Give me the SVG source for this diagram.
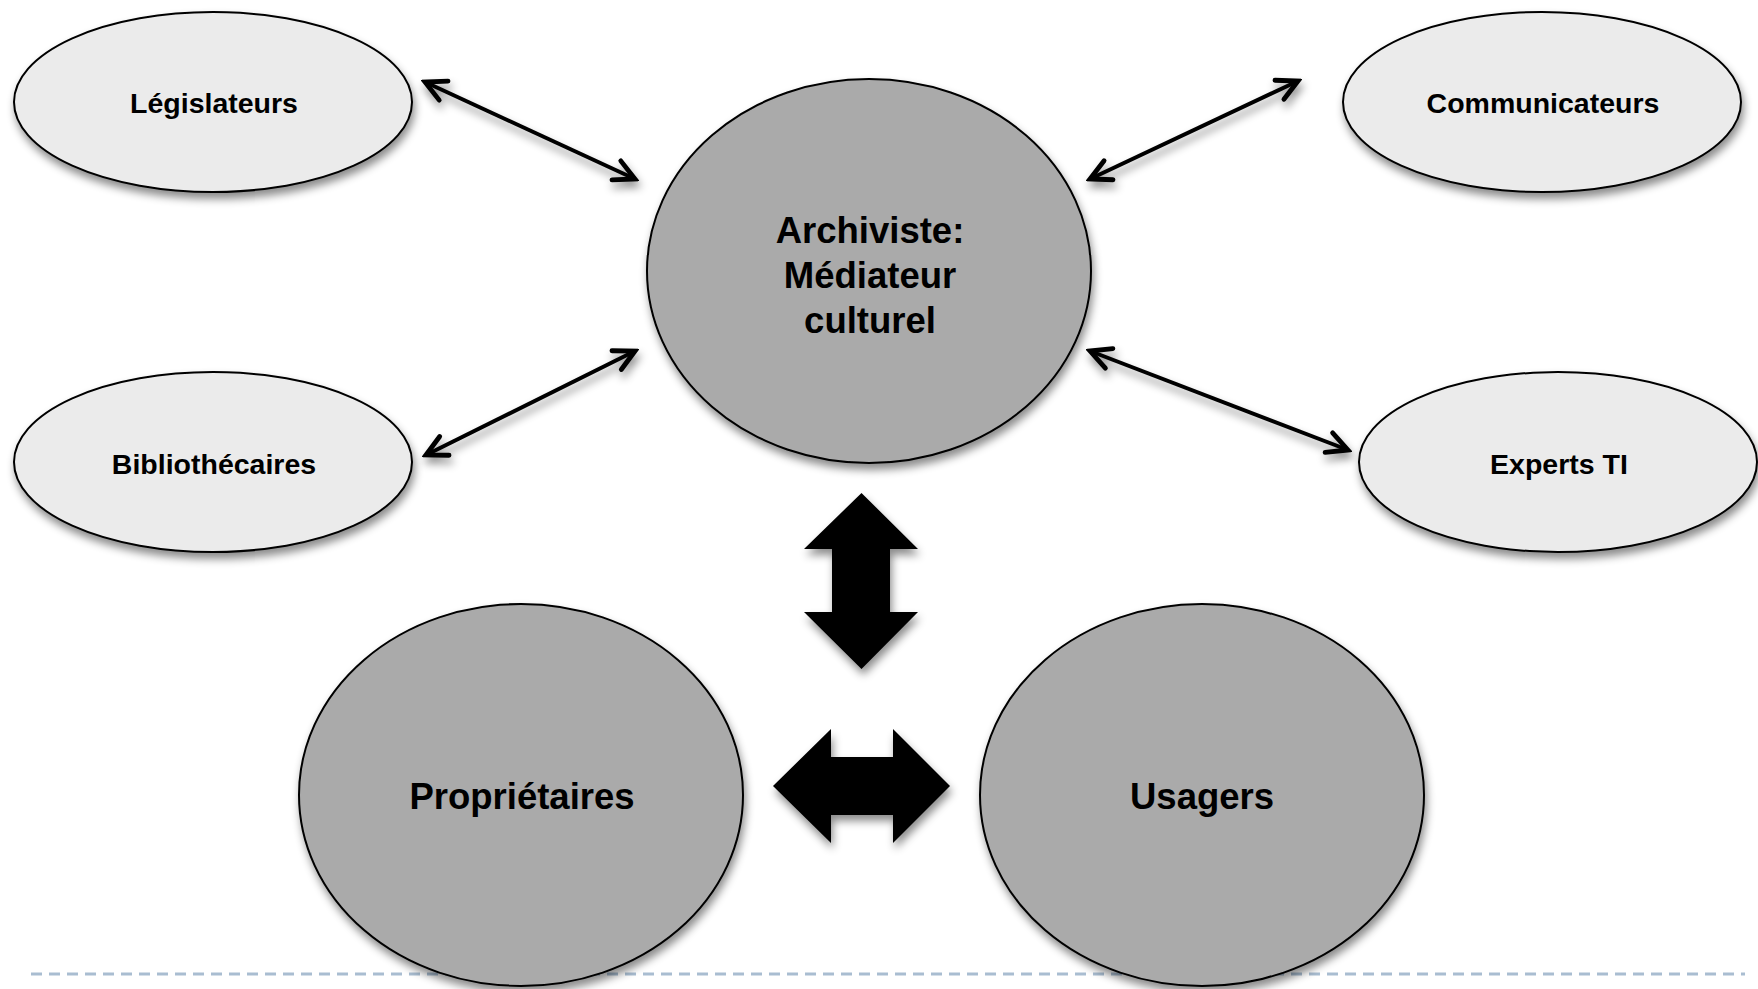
<svg xmlns="http://www.w3.org/2000/svg" width="1758" height="989" viewBox="0 0 1758 989">
  <style>
    .light { fill: #ebebeb; stroke: #000; stroke-width: 2; }
    .dark { fill: #aaaaaa; stroke: #000; stroke-width: 2; }
    .lbl { font-family: "Liberation Sans", Arial, sans-serif; font-weight: bold; fill: #000; text-anchor: middle; }
    .sm { font-size: 28.5px; }
    .lg { font-size: 36.5px; }
    .conn { stroke: #000; stroke-width: 4; fill: none; marker-start: url(#open); marker-end: url(#open); }
    .block { fill: #000; }
  </style>
  <defs>
    <filter id="sh" x="-20%" y="-20%" width="140%" height="150%">
      <feDropShadow dx="2" dy="6" stdDeviation="4" flood-color="#000" flood-opacity="0.45"/>
    </filter>
    <marker id="open" viewBox="-26 -14 30 28" refX="0" refY="0" markerWidth="30" markerHeight="28" markerUnits="userSpaceOnUse" orient="auto-start-reverse">
      <path d="M -20.5 -10.5 L 0 0 L -20.5 10.5" fill="none" stroke="#000" stroke-width="4.8" stroke-linecap="round" stroke-linejoin="miter"/>
    </marker>
  </defs>
  <rect width="1758" height="989" fill="#fff"/>

  <line x1="31" y1="974" x2="1745" y2="974" stroke="#a9bdd1" stroke-width="3" stroke-dasharray="11 7"/>

  <g id="connectors">
    <line class="conn" x1="425" y1="82" x2="635" y2="179" filter="url(#sh)"/>
    <line class="conn" x1="1090" y1="179" x2="1298" y2="81" filter="url(#sh)"/>
    <line class="conn" x1="426" y1="455" x2="635" y2="351" filter="url(#sh)"/>
    <line class="conn" x1="1090" y1="351" x2="1348" y2="450" filter="url(#sh)"/>
    <path id="vertical-arrow" class="block" filter="url(#sh)" d="M 861.5 493 L 918 549 L 890 549 L 890 612 L 918 612 L 861.5 669 L 804 612 L 832 612 L 832 549 L 804 549 Z"/>
    <path id="horizontal-arrow" class="block" filter="url(#sh)" d="M 773 786 L 831 729 L 831 757 L 893 757 L 893 729 L 950 786 L 893 843 L 893 815 L 831 815 L 831 843 Z"/>
  </g>

  <g id="legislateurs">
    <ellipse class="light" cx="213" cy="102" rx="199" ry="90" filter="url(#sh)"/>
    <text class="lbl sm" x="214" y="113">Législateurs</text>
  </g>
  <g id="communicateurs">
    <ellipse class="light" cx="1542" cy="102" rx="199" ry="90" filter="url(#sh)"/>
    <text class="lbl sm" x="1543" y="113">Communicateurs</text>
  </g>
  <g id="bibliothecaires">
    <ellipse class="light" cx="213" cy="462" rx="199" ry="90" filter="url(#sh)"/>
    <text class="lbl sm" x="214" y="474">Bibliothécaires</text>
  </g>
  <g id="experts-ti">
    <ellipse class="light" cx="1558" cy="462" rx="199" ry="90" filter="url(#sh)"/>
    <text class="lbl sm" x="1559" y="474">Experts TI</text>
  </g>
  <g id="archiviste">
    <ellipse class="dark" cx="869" cy="271" rx="222" ry="192" filter="url(#sh)"/>
    <text class="lbl lg" x="870" y="243">Archiviste:</text>
    <text class="lbl lg" x="870" y="288">Médiateur</text>
    <text class="lbl lg" x="870" y="333">culturel</text>
  </g>
  <g id="proprietaires">
    <ellipse class="dark" cx="521" cy="795" rx="222" ry="191" filter="url(#sh)"/>
    <text class="lbl lg" x="522" y="809">Propriétaires</text>
  </g>
  <g id="usagers">
    <ellipse class="dark" cx="1202" cy="795" rx="222" ry="191" filter="url(#sh)"/>
    <text class="lbl lg" x="1202" y="809">Usagers</text>
  </g>
</svg>
